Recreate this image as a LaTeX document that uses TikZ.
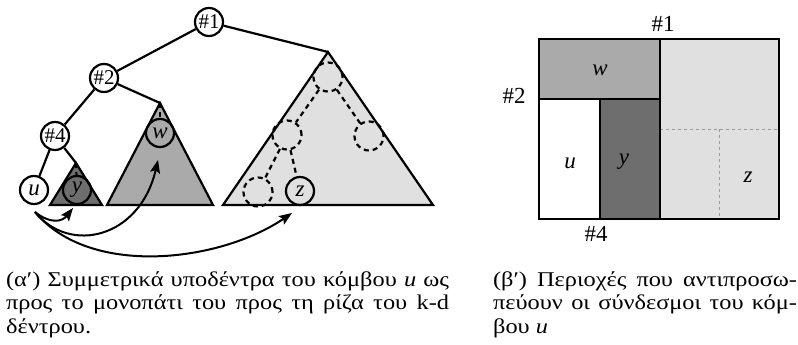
\documentclass[tikz,border=0pt]{standalone}
\usepackage{fontspec}
\setmainfont{Liberation Serif}
\newfontfamily\capfont[FakeStretch=1.16]{Liberation Serif}
\usetikzlibrary{arrows.meta}
\definecolor{ydark}{HTML}{6E6E6E}
\definecolor{wmid}{HTML}{AAAAAA}
\definecolor{zlight}{HTML}{E0E0E0}
\hyphenpenalty=10000

\begin{document}
\begin{tikzpicture}[x=1pt, y=-1pt, line width=2.2pt,
  knode/.style={draw, circle, fill=white, inner sep=0pt, minimum size=28pt, font=\fontsize{21}{21}\selectfont},
  sub/.style={draw, circle, inner sep=0pt, minimum size=28pt, font=\fontsize{23}{23}\selectfont\itshape},
  ghost/.style={draw, circle, dash pattern=on 5pt off 4pt, inner sep=0pt, minimum size=29pt},
  hidden/.style={dash pattern=on 5pt off 4pt},
  link/.style={-{Stealth[length=13pt, width=10pt, inset=2.5pt]}, line width=2pt},
  cut/.style={gray!80, dash pattern=on 3pt off 3pt, line width=0.8pt},
  lbl/.style={font=\fontsize{23}{23}\selectfont},
  captext/.style={anchor=base west, inner sep=0pt, align=justify, font=\capfont\fontsize{21}{23.5}\selectfont}]

\useasboundingbox (0,0) rectangle (798,345);

% subtrees of the path to the root
\coordinate (ty) at (76,163);
\coordinate (tw) at (160,103);
\coordinate (tz) at (328,52);
\draw[fill=ydark] (ty) -- (50,205) -- (102,205) -- cycle;
\draw[fill=wmid] (tw) -- (107,205) -- (213,205) -- cycle;
\draw[fill=zlight] (tz) -- (223,205) -- (433,205) -- cycle;

\node[knode] (n1) at (209,22) {\#1};
\node[knode] (n2) at (104,78) {\#2};
\node[knode] (n4) at (55,136) {\#4};
\node[knode, font=\fontsize{23}{23}\selectfont\itshape] (u) at (34,190) {u};
\node[sub] (y) at (77,190) {y};
\node[sub] (w) at (160,133) {w};
\node[ghost] (g1) at (328,77) {};
\node[ghost] (g2) at (287,135) {};
\node[ghost] (g3) at (369,136) {};
\node[ghost] (g4) at (258,192) {};
\node[sub] (z) at (300,191) {z};

\draw (n1) -- (n2);
\draw (n1) -- (tz);
\draw (n2) -- (n4);
\draw (n2) -- (tw);
\draw (n4) -- (u);
\draw (n4) -- (ty);

\draw[hidden] (ty) -- (y);
\draw[hidden] (tw) -- (w);
\draw[hidden] (g1) -- (g2);
\draw[hidden] (g1) -- (g3);
\draw[hidden] (g2) -- (g4);
\draw[hidden] (g2) -- (z);

% links of u
\coordinate (us) at (35,212);
\coordinate (yin) at (73,208);
\coordinate (win) at (158,160);
\coordinate (zin) at (292,213);
\draw[link] (us) .. controls (50,224) and (62,222) .. (yin);
\draw[link] (us) .. controls (70,255) and (140,238) .. (win);
\draw[link] (us) .. controls (90,278) and (220,262) .. (zin);

% regions
\fill[wmid] (539,39) rectangle (660,99);
\fill[white] (539,99) rectangle (600,219);
\fill[ydark] (600,99) rectangle (660,219);
\fill[zlight] (660,39) rectangle (779,219);
\draw[cut] (660,129) -- (779,129);
\draw[cut] (719,129) -- (719,219);
\draw (539,39) rectangle (779,219);
\draw (660,39) -- (660,219);
\draw (539,99) -- (660,99);
\draw (600,99) -- (600,219);

\node[lbl, font=\fontsize{23}{23}\selectfont\itshape] (rw) at (600,70) {w};
\node[lbl, font=\fontsize{23}{23}\selectfont\itshape] (ru) at (570,163) {u};
\node[lbl, font=\fontsize{23}{23}\selectfont\itshape] (ry) at (624,162) {y};
\node[lbl, font=\fontsize{23}{23}\selectfont\itshape] (rz) at (748,177) {z};
\node[lbl] (h1) at (663,24) {\#1};
\node[lbl] (h2) at (514,96) {\#2};
\node[lbl] (h4) at (596,234) {\#4};

% captions
\node[captext, text width=443pt] (capa) at (5,286) {(αʹ) Συμμετρικά υποδέντρα του κόμβου \textit{u} ως\linebreak
  προς το μονοπάτι του προς τη ρίζα του k-d\linebreak δέντρου.};
\node[captext, text width=304pt] (capb) at (492,286) {(βʹ) Περιοχές που αντιπροσω-\linebreak
  πεύουν οι σύνδεσμοι του κόμ-\linebreak βου \textit{u}};
\end{tikzpicture}
\end{document}
